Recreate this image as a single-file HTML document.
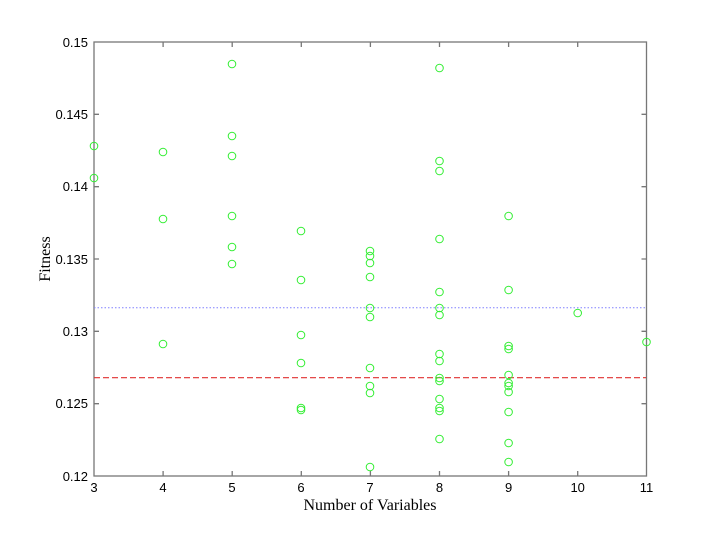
<!DOCTYPE html>
<html><head><style>body{margin:0;background:#fff}</style></head><body>
<svg width="714" height="534" xmlns="http://www.w3.org/2000/svg" font-family="Liberation Sans, sans-serif">
<rect width="714" height="534" fill="#fff"/>
<g stroke="#777" stroke-width="1.3" fill="none">
<rect x="94" y="42" width="552.5" height="434"/>
<path d="M163.1 476v-5M232.2 476v-5M301.3 476v-5M370.4 476v-5M439.5 476v-5M508.6 476v-5M577.7 476v-5M163.1 42v5M232.2 42v5M301.3 42v5M370.4 42v5M439.5 42v5M508.6 42v5M577.7 42v5"/>
<path d="M94 114.3h5M94 186.7h5M94 259h5M94 331.3h5M94 403.7h5M646.5 114.3h-5M646.5 186.7h-5M646.5 259h-5M646.5 331.3h-5M646.5 403.7h-5"/>
</g>
<line x1="94" x2="646" y1="307.7" y2="307.7" stroke="#8080ff" stroke-width="1" stroke-dasharray="1.5,2"/>
<line x1="94" x2="646" y1="377.7" y2="377.7" stroke="#e03030" stroke-width="1.2" stroke-dasharray="6,3"/>
<g font-size="13" fill="#000" text-anchor="end">
<text x="88" y="47">0.15</text><text x="88" y="119">0.145</text><text x="88" y="191">0.14</text><text x="88" y="264">0.135</text><text x="88" y="336">0.13</text><text x="88" y="408">0.125</text><text x="88" y="481">0.12</text>
</g>
<g font-size="13" fill="#000" text-anchor="middle">
<text x="94" y="492">3</text><text x="163" y="492">4</text><text x="232" y="492">5</text><text x="301" y="492">6</text><text x="370" y="492">7</text><text x="439.5" y="492">8</text><text x="508.6" y="492">9</text><text x="577.7" y="492">10</text><text x="646.5" y="492">11</text>
</g>
<text x="370" y="510" font-family="Liberation Serif, serif" font-size="16" text-anchor="middle">Number of Variables</text>
<text transform="translate(50 259) rotate(-90)" font-family="Liberation Serif, serif" font-size="16" text-anchor="middle">Fitness</text>
<g fill="none" stroke="#33ee33" stroke-width="1">
<circle cx="94" cy="146" r="3.8"/><circle cx="94" cy="178" r="3.8"/>
<circle cx="163" cy="152" r="3.8"/><circle cx="163" cy="219" r="3.8"/><circle cx="163" cy="344" r="3.8"/>
<circle cx="232" cy="64" r="3.8"/><circle cx="232" cy="136" r="3.8"/><circle cx="232" cy="156" r="3.8"/><circle cx="232" cy="216" r="3.8"/><circle cx="232" cy="247" r="3.8"/><circle cx="232" cy="264" r="3.8"/>
<circle cx="301" cy="231" r="3.8"/><circle cx="301" cy="280" r="3.8"/><circle cx="301" cy="335" r="3.8"/><circle cx="301" cy="363" r="3.8"/><circle cx="301" cy="408" r="3.8"/><circle cx="301" cy="410" r="3.8"/>
<circle cx="370" cy="251" r="3.8"/><circle cx="370" cy="256" r="3.8"/><circle cx="370" cy="263" r="3.8"/><circle cx="370" cy="277" r="3.8"/><circle cx="370" cy="308" r="3.8"/><circle cx="370" cy="317" r="3.8"/><circle cx="370" cy="368" r="3.8"/><circle cx="370" cy="386" r="3.8"/><circle cx="370" cy="393" r="3.8"/><circle cx="370" cy="467" r="3.8"/>
<circle cx="439.5" cy="68" r="3.8"/><circle cx="439.5" cy="161" r="3.8"/><circle cx="439.5" cy="171" r="3.8"/><circle cx="439.5" cy="239" r="3.8"/><circle cx="439.5" cy="292" r="3.8"/><circle cx="439.5" cy="308" r="3.8"/><circle cx="439.5" cy="315" r="3.8"/><circle cx="439.5" cy="354" r="3.8"/><circle cx="439.5" cy="361" r="3.8"/><circle cx="439.5" cy="378" r="3.8"/><circle cx="439.5" cy="381" r="3.8"/><circle cx="439.5" cy="399" r="3.8"/><circle cx="439.5" cy="408" r="3.8"/><circle cx="439.5" cy="411" r="3.8"/><circle cx="439.5" cy="439" r="3.8"/>
<circle cx="508.6" cy="216" r="3.8"/><circle cx="508.6" cy="290" r="3.8"/><circle cx="508.6" cy="346" r="3.8"/><circle cx="508.6" cy="349" r="3.8"/><circle cx="508.6" cy="375" r="3.8"/><circle cx="508.6" cy="383" r="3.8"/><circle cx="508.6" cy="386" r="3.8"/><circle cx="508.6" cy="392" r="3.8"/><circle cx="508.6" cy="412" r="3.8"/><circle cx="508.6" cy="443" r="3.8"/><circle cx="508.6" cy="462" r="3.8"/>
<circle cx="577.7" cy="313" r="3.8"/>
<circle cx="646.5" cy="342" r="3.8"/>
</g>
</svg>
</body></html>
